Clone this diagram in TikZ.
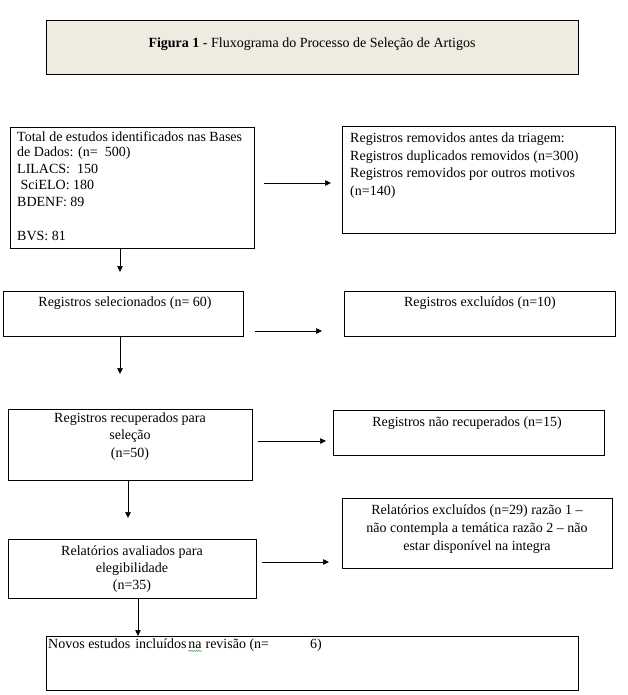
\documentclass[tikz,border=0pt]{standalone}
\usepackage{fontspec}
\setmainfont{Liberation Serif}
\usetikzlibrary{arrows.meta,decorations.pathmorphing}
\definecolor{titlefill}{RGB}{238,235,225}
\definecolor{spellgreen}{RGB}{70,170,70}
\begin{document}
\begin{tikzpicture}[x=1pt,y=-1pt,
  box/.style={draw=black, line width=0.9pt},
  txt/.style={inner sep=0pt, font=\fontsize{14}{16}\selectfont},
  ttl/.style={inner sep=0pt, font=\fontsize{14}{16}\selectfont},
  arr/.style={draw=black, line width=0.7pt, -{Triangle[width=5.5pt,length=6pt]}},
  squig/.style={draw=spellgreen, line width=0.5pt, decorate, decoration={snake, amplitude=0.7pt, segment length=2.5pt}}]
\useasboundingbox (0,0) rectangle (628,695);
% title
\draw[box, fill=titlefill] (46,20) rectangle (578,74);
\node[ttl, anchor=mid] (ttl) at (312,45) {\textbf{Figura 1} - Fluxograma do Processo de Seleção de Artigos};
% box 1
\draw[box] (10,127) rectangle (254,248);
\node[txt, anchor=mid west] (t1a) at (17,139) {Total de estudos identificados nas Bases};
\node[txt, anchor=mid west] (t1b) at (17,154) {de Dados: (n=\ \ 500)};
\node[txt, anchor=mid west] (t1c) at (17,171) {LILACS:\ \ 150};
\node[txt, anchor=mid west] (t1d) at (17,187) {\ SciELO: 180};
\node[txt, anchor=mid west] (t1e) at (17,204) {BDENF: 89};
\node[txt, anchor=mid west] (t1f) at (17,238) {BVS: 81};
% box 2
\draw[box] (342,126) rectangle (615,233);
\node[txt, anchor=mid west] (t2a) at (350,140) {Registros removidos antes da triagem:};
\node[txt, anchor=mid west] (t2b) at (350,158) {Registros duplicados removidos (n=300)};
\node[txt, anchor=mid west] (t2c) at (350,175) {Registros removidos por outros motivos};
\node[txt, anchor=mid west] (t2d) at (350,193) {(n=140)};
% box 3
\draw[box] (3,291) rectangle (243,336);
\node[txt, anchor=mid] (t3) at (125,304) {Registros selecionados (n= 60)};
% box 4
\draw[box] (344,291) rectangle (615,336);
\node[txt, anchor=mid] (t4) at (480,304) {Registros excluídos (n=10)};
% box 5
\draw[box] (8,409) rectangle (252,480);
\node[txt, anchor=mid] (t5a) at (130,420) {Registros recuperados para};
\node[txt, anchor=mid] (t5b) at (130,437) {seleção};
\node[txt, anchor=mid] (t5c) at (130,455) {(n=50)};
% box 6
\draw[box] (333,410) rectangle (604,455);
\node[txt, anchor=mid] (t6) at (467,424) {Registros não recuperados (n=15)};
% box 7
\draw[box] (342,498) rectangle (612,568);
\node[txt, anchor=mid] (t7a) at (477,512) {Relatórios excluídos (n=29) razão 1 –};
\node[txt, anchor=mid] (t7b) at (477,530) {não contempla a temática razão 2 – não};
\node[txt, anchor=mid] (t7c) at (477,548) {estar disponível na integra};
% box 8
\draw[box] (8,539) rectangle (256,598);
\node[txt, anchor=mid] (t8a) at (132,553) {Relatórios avaliados para};
\node[txt, anchor=mid] (t8b) at (132,570) {elegibilidade};
\node[txt, anchor=mid] (t8c) at (132,587) {(n=35)};
% box 9
\draw[box] (46,636) rectangle (578,690);
\node[txt, anchor=mid west] (t9a) at (48,646) {Novos estudos\hspace{5pt}incluídos};
\node[txt, anchor=mid west] (t9b) at ([xshift=1.5pt]t9a.mid east) {na};
\node[txt, anchor=mid west] (t9c) at ([xshift=3.5pt]t9b.mid east) {revisão (n=};
\node[txt, anchor=mid west] (t9d) at (310,646) {6)};
\draw[squig] ([yshift=-2.2pt]t9b.south west) -- ([yshift=-2.2pt]t9b.south east);
% horizontal arrows
\coordinate (h1s) at (264,183); \coordinate (h1e) at (331,183);
\draw[arr] (h1s) -- (h1e);
\coordinate (h2s) at (255,331); \coordinate (h2e) at (322,331);
\draw[arr] (h2s) -- (h2e);
\coordinate (h3s) at (258,441); \coordinate (h3e) at (326,441);
\draw[arr] (h3s) -- (h3e);
\coordinate (h4s) at (262,562); \coordinate (h4e) at (329,562);
\draw[arr] (h4s) -- (h4e);
% vertical arrows
\coordinate (v1s) at (120,248); \coordinate (v1e) at (120,272);
\draw[arr] (v1s) -- (v1e);
\coordinate (v2s) at (120,336); \coordinate (v2e) at (120,374);
\draw[arr] (v2s) -- (v2e);
\coordinate (v3s) at (128,480); \coordinate (v3e) at (128,518);
\draw[arr] (v3s) -- (v3e);
\coordinate (v4s) at (138,598); \coordinate (v4e) at (138,636);
\draw[arr] (v4s) -- (v4e);
\end{tikzpicture}
\end{document}
